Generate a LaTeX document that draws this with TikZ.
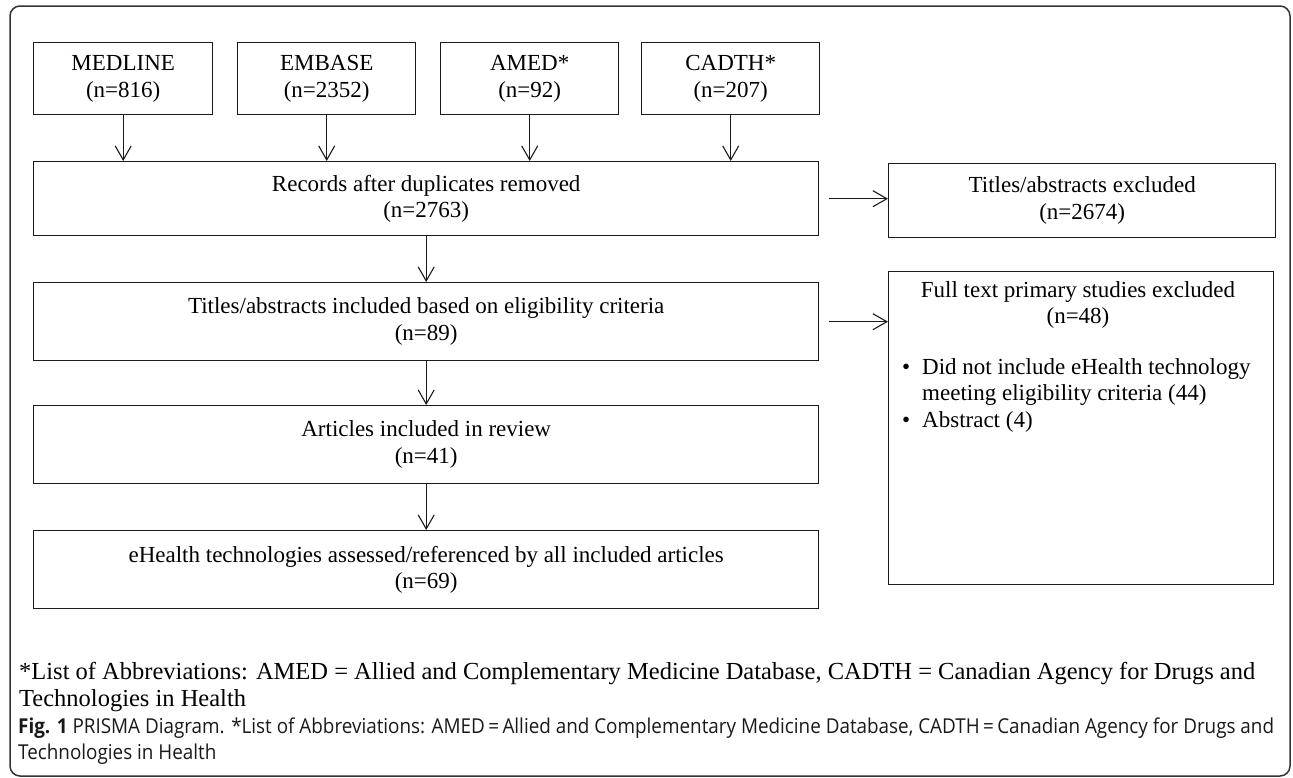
\documentclass[tikz,border=0pt]{standalone}
\usepackage{fontspec}
\setmainfont{Liberation Serif}
\newfontfamily\capfont{Open Sans}[FakeStretch=0.92]
\usetikzlibrary{arrows.meta}
\definecolor{frame}{HTML}{333333}
\definecolor{edge}{HTML}{1A1A1A}
\begin{document}
\begin{tikzpicture}[x=1pt,y=-1pt,
  box/.style={draw=edge, line width=1.4pt, inner sep=0pt, anchor=north west,
    align=center, font=\fontsize{23}{26.5}\selectfont},
  arr/.style={draw=edge, line width=1.1pt, -{Straight Barb[length=14pt,width=16pt,line width=1.1pt]}},
  txt/.style={inner sep=0pt, align=left}]
\useasboundingbox (0,0) rectangle (1293,777);
\draw[frame, line width=1.5pt, rounded corners=10pt] (10,6) rectangle (1290,776);

% top sources
\node[box, minimum width=179, minimum height=72] (medline) at (33,42) {MEDLINE\\(n=816)};
\node[box, minimum width=178, minimum height=72] (embase) at (237,42) {EMBASE\\(n=2352)};
\node[box, minimum width=178, minimum height=72] (amed) at (440,42) {AMED*\\(n=92)};
\node[box, minimum width=178, minimum height=72] (cadth) at (641,42) {CADTH*\\(n=207)};

% main column
\node[box, minimum width=785, minimum height=74] (recs) at (33,161) {Records after duplicates removed\\(n=2763)};
\node[box, minimum width=785, minimum height=78] (incl) at (33,282) {Titles/abstracts included based on eligibility criteria\\(n=89)};
\node[box, minimum width=785, minimum height=78] (arts) at (33,405) {Articles included in review\\(n=41)};
\node[box, minimum width=785, minimum height=78] (ehealth) at (33,530) {eHealth technologies assessed/referenced by all included articles\\(n=69)};

% right column
\node[box, minimum width=387, minimum height=74] (excl) at (888,163) {Titles/abstracts excluded\\(n=2674)};
\node[box, minimum width=385, minimum height=313] (full) at (888,271) {};
\node[inner sep=0pt, anchor=north, align=center, font=\fontsize{23}{26.5}\selectfont] (fullhead) at (1078,281) {Full text primary studies excluded\\(n=48)};
\node[inner sep=0pt, anchor=north west, align=left, font=\fontsize{23}{26.5}\selectfont] (fulllist) at (900,358)
  {\makebox[22pt][l]{\hspace{2pt}\textbullet}Did not include eHealth technology\\
   \hspace*{22pt}meeting eligibility criteria (44)\\
   \makebox[22pt][l]{\hspace{2pt}\textbullet}Abstract (4)};

% arrows
\foreach \n in {medline,embase,amed,cadth}
  \draw[arr] (\n.south) -- (\n.south |- recs.north);
\draw[arr] (recs.south) -- (incl.north);
\draw[arr] (incl.south) -- (arts.north);
\draw[arr] (arts.south) -- (ehealth.north);
\draw[arr] ([xshift=10pt]recs.east) -- (recs.east -| excl.west);
\draw[arr] ([xshift=10pt]incl.east) -- (incl.east -| full.west);

% footnote
\node[txt, anchor=north west, font=\fontsize{24.5}{27}\selectfont] (foot) at (19,662)
  {*List of Abbreviations: AMED = Allied and Complementary Medicine Database, CADTH = Canadian Agency for Drugs and\\Technologies in Health};

% caption
\node[txt, anchor=north west, font=\capfont\fontsize{20.5}{25.5}\selectfont, text=black!90] (cap) at (18,718)
  {\textbf{Fig. 1} PRISMA Diagram. *List of Abbreviations: AMED\,=\,Allied and Complementary Medicine Database, CADTH\,=\,Canadian Agency for Drugs and\\Technologies in Health};
\end{tikzpicture}
\end{document}
